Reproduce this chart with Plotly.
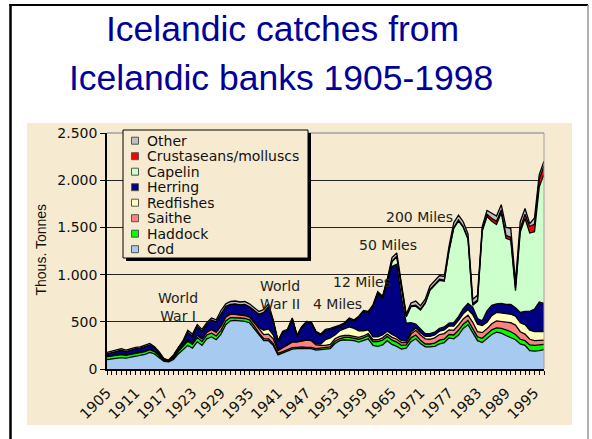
import plotly.graph_objects as go

years = list(range(1905, 1998))

cod = [100,105,110,120,115,125,135,140,155,175,
       160,120,80,75,100,160,200,250,220,290,
       250,320,340,310,370,470,510,515,510,505,
       490,430,360,300,300,250,150,170,190,210,
       215,220,215,215,200,205,210,215,270,300,
       310,305,300,285,300,320,250,240,255,300,
       260,240,210,220,290,320,270,235,235,240,
       265,280,330,320,360,430,470,390,300,280,
       320,365,390,380,355,335,310,265,250,195,
       190,195,205]
haddock = [30,30,30,32,30,30,30,30,30,30,
           25,20,10,8,15,25,35,45,40,45,
           40,40,40,40,40,40,35,30,30,30,
           30,25,20,20,20,20,15,15,15,15,
           15,15,15,15,15,15,15,20,25,20,
           25,30,25,30,30,35,40,50,50,45,
           45,45,40,35,40,40,35,30,30,35,
           40,35,35,40,50,45,45,45,40,45,
           50,50,45,50,60,60,55,50,50,60,
           60,60,55]
saithe = [5,5,5,5,5,5,5,5,5,5,
          5,5,3,2,5,5,10,15,20,25,
          30,30,40,40,45,40,35,35,30,30,
          30,35,40,45,50,50,30,40,50,60,
          55,60,75,70,40,30,25,25,25,25,
          20,20,20,20,20,20,20,20,25,25,
          30,30,30,25,40,50,55,55,50,55,
          60,60,50,50,55,55,55,60,55,60,
          55,65,75,75,80,95,100,80,70,60,
          50,50,45]
redfishes = [0,0,0,0,0,0,0,0,0,0,
             0,0,0,0,0,0,0,0,0,0,
             0,0,0,0,5,5,5,5,5,5,
             5,10,20,45,55,40,15,5,5,5,
             5,5,5,10,10,15,60,70,40,60,
             70,90,85,70,55,40,30,30,30,30,
             30,25,20,15,20,25,25,25,30,30,
             35,40,40,45,50,55,60,80,80,75,
             70,85,90,90,90,90,95,95,100,95,
             95,95,90]
herring = [25,35,40,43,35,40,45,45,45,45,
           35,25,12,5,20,30,40,80,70,90,
           80,80,100,110,130,110,100,105,105,115,
           105,120,140,190,235,140,80,160,150,240,
           60,140,185,180,125,95,100,90,75,50,
           55,85,80,145,205,185,325,465,395,520,
           720,770,460,190,100,40,40,30,30,30,
           30,30,30,35,40,55,65,80,60,50,
           120,110,90,100,100,105,90,110,140,200,
           240,310,300]
capelin = [0]*59 + [10,50,80,100,70,170,190,200,320,460,500,
                    510,485,765,1000,1015,860,680,20,180,950,
                    1000,890,840,960,700,680,180,850,985,830,
                    820,1220,1365]
crustaceans = [0]*59 + [5,5,5,5,5,10,10,10,10,10,10,
                        10,10,10,10,10,10,10,15,15,20,
                        25,30,35,30,30,30,30,40,45,70,
                        80,80,90]
other = [15,15,15,15,15,15,15,15,15,15,
         10,10,5,5,10,10,15,20,20,20,
         20,20,20,20,30,25,30,30,30,30,
         30,30,30,30,30,20,10,10,10,10,
         10,10,10,10,10,10,10,10,10,10,
         10,10,10,10,10,10,15,15,15,15,
         40,35,35,20,30,45,35,35,35,40,
         40,40,40,50,50,50,45,50,50,30,
         40,55,55,55,85,95,60,70,60,30,
         65,50,50]

series_names = ["Cod", "Haddock", "Saithe", "Redfishes", "Herring",
                "Capelin", "Crustaseans/molluscs", "Other"]
series_values = [cod, haddock, saithe, redfishes, herring, capelin, crustaceans, other]
series_colors = ["#A6CAF0", "#00FF00", "#FF8080", "#FFFFC0", "#000080",
                 "#CCFFCC", "#FF0000", "#C0C0C0"]

tick_years = list(range(1905, 1998, 6))
y_ticks = [0, 500, 1000, 1500, 2000, 2500]
y_ticktext = ["0", "500", "1.000", "1.500", "2.000", "2.500"]

W, H = 592, 439
ML, MR, MT, MB = 107, 48, 133, 70
PW = W - ML - MR
PH = H - MT - MB


def px(x):
    return (x - ML) / PW


def py(y):
    return (H - MB - y) / PH


BEIGE = "#F6EBD0"

fig = go.Figure()
for name, vals, col in zip(series_names, series_values, series_colors):
    fig.add_trace(go.Scatter(
        x=years, y=vals, name=name, mode="lines", stackgroup="one",
        line=dict(color="#000000", width=1.3), fillcolor=col,
        showlegend=False, hoverinfo="skip"))

shapes = []
# beige chart background
shapes.append(dict(type="rect", xref="paper", yref="paper", x0=px(27), x1=px(572),
                   y0=py(425), y1=py(123), fillcolor=BEIGE, line=dict(width=0), layer="below"))
# slide frame
shapes.append(dict(type="line", xref="paper", yref="paper", x0=px(10.5), x1=px(10.5),
                   y0=py(4), y1=py(445), line=dict(color="#000", width=2.5)))
shapes.append(dict(type="line", xref="paper", yref="paper", x0=px(9.5), x1=px(588),
                   y0=py(5), y1=py(5), line=dict(color="#000", width=2)))
shapes.append(dict(type="line", xref="paper", yref="paper", x0=px(588), x1=px(588),
                   y0=py(5), y1=py(445), line=dict(color="#999", width=1.5)))
# plot border top/right (grey)
shapes.append(dict(type="line", xref="paper", yref="paper", x0=0, x1=1, y0=1, y1=1,
                   line=dict(color="#A0A0A0", width=1.5)))
shapes.append(dict(type="line", xref="paper", yref="paper", x0=1, x1=1, y0=0, y1=1,
                   line=dict(color="#A0A0A0", width=1)))
# legend box with shadow
shapes.append(dict(type="rect", xref="paper", yref="paper", x0=px(126), x1=px(311),
                   y0=py(261), y1=py(133), fillcolor="#000", line=dict(width=0)))
shapes.append(dict(type="rect", xref="paper", yref="paper", x0=px(123), x1=px(308),
                   y0=py(258), y1=py(130), fillcolor=BEIGE, line=dict(color="#000", width=1)))

annotations = []
legend_order = list(reversed(list(zip(series_names, series_colors))))
for i, (name, col) in enumerate(legend_order):
    cy = 140.7 + i * 15.5
    shapes.append(dict(type="rect", xref="paper", yref="paper", x0=px(131.5), x1=px(138.5),
                       y0=py(cy + 3.5), y1=py(cy - 3.5), fillcolor=col,
                       line=dict(color="#555", width=1)))
    annotations.append(dict(text=name, xref="paper", yref="paper", x=px(145), y=py(cy),
                            xanchor="left", yanchor="middle", showarrow=False,
                            font=dict(family="DejaVu Sans", size=14, color="#111")))

# title
annotations.append(dict(text="Icelandic catches from", xref="paper", yref="paper",
                        x=px(282), y=py(29), xanchor="center", yanchor="middle", showarrow=False,
                        font=dict(family="Liberation Sans, Arial", size=35.5, color="#000099")))
annotations.append(dict(text="Icelandic banks 1905-1998", xref="paper", yref="paper",
                        x=px(281), y=py(78), xanchor="center", yanchor="middle", showarrow=False,
                        font=dict(family="Liberation Sans, Arial", size=35.5, color="#000099")))
# y-axis title
annotations.append(dict(text="Thous. Tonnes", xref="paper", yref="paper", x=px(40.5), y=py(250),
                        textangle=-90, xanchor="center", yanchor="middle", showarrow=False,
                        font=dict(family="Liberation Sans, Arial", size=14, color="#111")))
# event labels
labels = [("World<br>War I", 178, 307), ("World<br>War II", 280, 295),
          ("4 Miles", 337, 304), ("12 Miles", 362, 282), ("50 Miles", 388, 245),
          ("200 Miles", 419, 217)]
for txt, lx, ly in labels:
    annotations.append(dict(text=txt, xref="paper", yref="paper", x=px(lx), y=py(ly),
                            xanchor="center", yanchor="middle", showarrow=False,
                            font=dict(family="DejaVu Sans", size=14, color="#222")))

fig.update_layout(
    width=W, height=H, margin=dict(l=ML, r=MR, t=MT, b=MB, pad=0),
    paper_bgcolor="#FFFFFF", plot_bgcolor=BEIGE,
    shapes=shapes, annotations=annotations, showlegend=False,
    xaxis=dict(range=[1905, 1997], tickmode="array", tickvals=years,
               ticktext=[str(y) if y in tick_years else "" for y in years],
               tickangle=-45, ticks="outside", ticklen=4, tickwidth=1, tickcolor="#000",
               ticklabelstandoff=4,
               showline=True, linecolor="#000", linewidth=1.5, showgrid=False, zeroline=False,
               tickfont=dict(family="DejaVu Sans", size=14.5, color="#111")),
    yaxis=dict(range=[0, 2500], tickmode="array", tickvals=y_ticks, ticktext=y_ticktext,
               ticks="outside", ticklen=5, tickcolor="#000", showline=True, linecolor="#000",
               linewidth=1.5, showgrid=True, gridcolor="#222", gridwidth=1, zeroline=False,
               tickfont=dict(family="DejaVu Sans", size=14, color="#111")),
)

fig.write_html("out.html")
